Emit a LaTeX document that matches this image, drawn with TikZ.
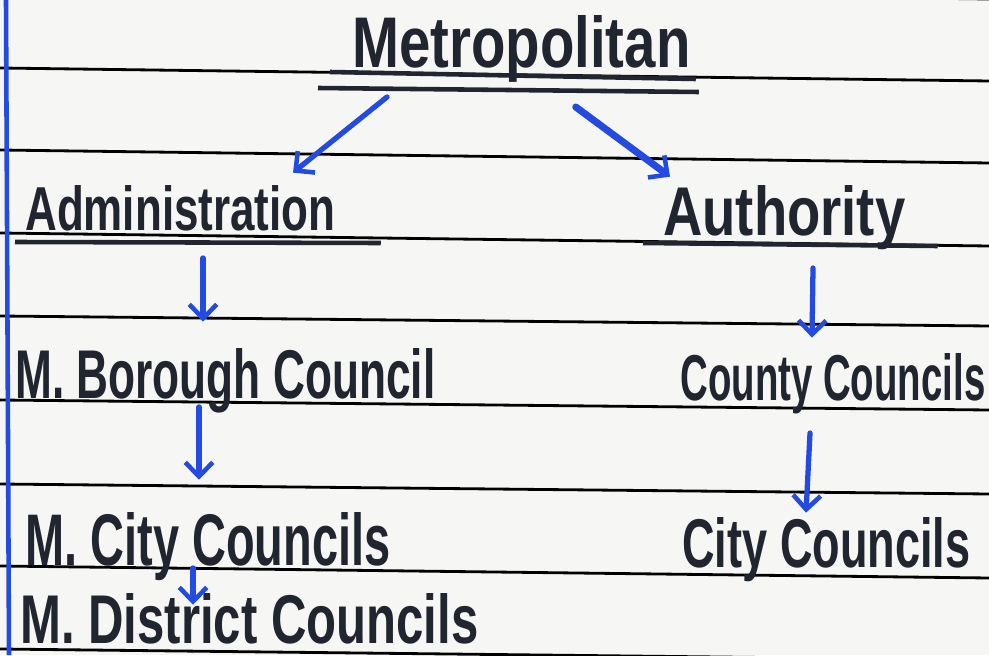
\documentclass[tikz,border=0pt]{standalone}
\usepackage{fontspec}
\setmainfont{Liberation Sans}
\usepackage{graphicx}
\usetikzlibrary{arrows.meta}

\definecolor{ink}{RGB}{32,37,48}
\definecolor{pen}{RGB}{35,75,225}
\definecolor{paper}{RGB}{246,246,244}
\newlength\notepx
\setlength\notepx{0.02cm}
\newcommand{\hand}[3]{\resizebox{#1\notepx}{#2\notepx}{\bfseries #3}}

\begin{document}
\begin{tikzpicture}[x=0.02cm, y=-0.02cm]
    \tikzset{
      rule/.style = { black, line width = 1.6pt },
      heading/.style = { inner sep = 0, anchor = base west, text = ink },
      uline/.style = { ink, line width = 2.6pt },
      pen arrow/.style = { pen, line width = 3pt, line cap = round,
        -{Straight Barb[length = 2.8mm, width = 5.5mm, line width = 2.6pt]} },
    }
    \fill[paper] (0,0) rectangle (989,655);
    \useasboundingbox (0,0) rectangle (989,655);

    \foreach \l/\r in {-14/-1, 68/81, 150/163, 233/246, 316/326, 400/410, 484/494, 566/578, 649/660}
        \draw[rule] (0,\l) -- (989,\r);
    \draw[pen, line width = 2.6pt] (6,0) -- (9,655);

    \node[heading] (metropolitan) at (352,68) {\hand{338}{52}{Metropolitan}};
    \node[heading] (administration) at (25,230) {\hand{310}{45}{Administration}};
    \node[heading] (authority) at (663,235) {\hand{242}{50}{Authority}};
    \node[heading] (borough council) at (15,398) {\hand{420}{50}{M. Borough Council}};
    \node[heading] (city councils) at (25,565) {\hand{365}{53}{M. City Councils}};
    \node[heading] (district councils) at (20,643) {\hand{458}{50}{M. District Councils}};
    \node[heading] (county councils) at (680,400) {\hand{305}{47}{County Councils}};
    \node[heading] (authority city) at (682,567) {\hand{288}{50}{City Councils}};

    \draw[uline] ([shift={(-22,4)}]metropolitan.base west) -- ([shift={(5,11)}]metropolitan.base east);
    \draw[uline] ([shift={(-34,20)}]metropolitan.base west) -- ([shift={(8,24)}]metropolitan.base east);
    \draw[uline] ([shift={(-10,12)}]administration.base west) -- ([shift={(45,13)}]administration.base east);
    \draw[uline] ([shift={(-20,8)}]authority.base west) -- ([shift={(32,11)}]authority.base east);

    \draw[pen arrow] ([shift={(35,29)}]metropolitan.base west) -- ([shift={(268,-12)}]administration.north west);
    \draw[pen arrow, line width = 4pt] ([shift={(-115,39)}]metropolitan.base east) -- ([shift={(7,-8)}]authority.north west);
    \draw[pen arrow] ([shift={(178,28)}]administration.base west) -- ([shift={(188,-26)}]borough council.north west);
    \draw[pen arrow] ([shift={(150,33)}]authority.base west) -- ([shift={(132,-15)}]county councils.north west);
    \draw[pen arrow] ([shift={(130,33)}]county councils.base west) -- ([shift={(124,-4)}]authority city.north west);
    \draw[pen arrow] ([shift={(184,9)}]borough council.base west) -- ([shift={(174,-32)}]city councils.north west);
    \draw[pen arrow] ([shift={(168,3)}]city councils.base west) -- ([shift={(173,12)}]district councils.north west);
\end{tikzpicture}
\end{document}
